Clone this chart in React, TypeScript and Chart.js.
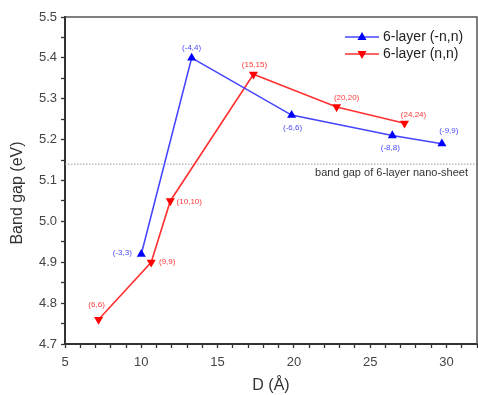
import React, { useEffect, useRef } from "react";
import { Chart, registerables } from "chart.js";

Chart.register(...registerables);

// ---- Data ----
const blueD = [10.0, 13.3, 19.85, 26.45, 29.7];
const blueGap = [4.92, 5.4, 5.26, 5.21, 5.19];
const blueLabels = ["(-3,3)", "(-4,4)", "(-6,6)", "(-8,8)", "(-9,9)"];

const redD = [7.2, 10.65, 11.9, 17.35, 22.8, 27.25];
const redGap = [4.76, 4.9, 5.05, 5.36, 5.28, 5.24];
const redLabels = ["(6,6)", "(9,9)", "(10,10)", "(15,15)", "(20,20)", "(24,24)"];

const seriesNames = ["6-layer (-n,n)", "6-layer (n,n)"];
const sheetGap = 5.14;
const sheetLabel = "band gap of 6-layer nano-sheet";

const xTicks = [5, 10, 15, 20, 25, 30];
const yTicks = [4.7, 4.8, 4.9, 5.0, 5.1, 5.2, 5.3, 5.4, 5.5];
const xTitle = "D (Å)";
const yTitle = "Band gap (eV)";

// ---- Styles (label offsets in px relative to the point) ----
const blueOffsets = [[-19, -1], [0, -10], [1, 13], [-2, 12], [7, -13]];
const redOffsets = [[-2, -15], [16, 0], [19, 1], [1, -9], [10, -9], [9, -8]];

const BLUE_LINE = "#4545ff";
const RED_LINE = "#ff3030";
const BLUE_MARK = "#0000ff";
const RED_MARK = "#ff0000";
const FONT = "'Liberation Sans', Arial, sans-serif";

const decor = {
  id: "decor",
  beforeDatasetsDraw(chart: any) {
    const { ctx, chartArea } = chart;
    const { left, right, top, bottom } = chartArea;
    const ys = chart.scales.y;
    ctx.save();
    const yy = ys.getPixelForValue(sheetGap);
    ctx.strokeStyle = "#999";
    ctx.lineWidth = 1;
    ctx.setLineDash([1.5, 1.5]);
    ctx.beginPath();
    ctx.moveTo(left, yy);
    ctx.lineTo(right, yy);
    ctx.stroke();
    ctx.setLineDash([]);
    ctx.fillStyle = "#333";
    ctx.font = `11px ${FONT}`;
    ctx.textAlign = "right";
    ctx.textBaseline = "middle";
    ctx.fillText(sheetLabel, right - 9, yy + 9);
    ctx.strokeStyle = "#555";
    ctx.lineWidth = 1.5;
    ctx.beginPath();
    ctx.moveTo(left, top);
    ctx.lineTo(right, top);
    ctx.lineTo(right, bottom);
    ctx.stroke();
    ctx.restore();
  },
  afterDraw(chart: any) {
    const { ctx, chartArea } = chart;
    const xs = chart.scales.x;
    const ys = chart.scales.y;
    ctx.save();

    // x tick labels
    ctx.fillStyle = "#444";
    ctx.font = `13px ${FONT}`;
    ctx.textAlign = "center";
    ctx.textBaseline = "middle";
    xTicks.forEach((v) => {
      ctx.fillText(String(v), xs.getPixelForValue(v), chartArea.bottom + 18);
    });

    // data labels
    ctx.font = `8px ${FONT}`;
    const drawLabels = (xsArr: number[], ysArr: number[], labels: string[], offs: number[][], color: string) => {
      ctx.fillStyle = color;
      for (let i = 0; i < labels.length; i++) {
        const px = xs.getPixelForValue(xsArr[i]);
        const py = ys.getPixelForValue(ysArr[i]);
        ctx.fillText(labels[i], px + offs[i][0], py + offs[i][1]);
      }
    };
    drawLabels(blueD, blueGap, blueLabels, blueOffsets, "#4a4aff");
    drawLabels(redD, redGap, redLabels, redOffsets, "#ff3a3a");

    // legend
    const legendItems = [
      { name: seriesNames[0], line: BLUE_LINE, mark: BLUE_MARK, rot: 0 },
      { name: seriesNames[1], line: RED_LINE, mark: RED_MARK, rot: 180 },
    ];
    legendItems.forEach((it, i) => {
      const ly = 37 + i * 17;
      ctx.strokeStyle = it.line;
      ctx.lineWidth = 1.5;
      ctx.beginPath();
      ctx.moveTo(345, ly);
      ctx.lineTo(379, ly);
      ctx.stroke();
      ctx.fillStyle = it.mark;
      ctx.beginPath();
      if (it.rot === 0) {
        ctx.moveTo(362, ly - 5);
        ctx.lineTo(366.5, ly + 3);
        ctx.lineTo(357.5, ly + 3);
      } else {
        ctx.moveTo(362, ly + 5);
        ctx.lineTo(366.5, ly - 3);
        ctx.lineTo(357.5, ly - 3);
      }
      ctx.closePath();
      ctx.fill();
      ctx.fillStyle = "#222";
      ctx.font = `14px ${FONT}`;
      ctx.textAlign = "left";
      ctx.textBaseline = "middle";
      ctx.fillText(it.name, 383, ly + 0.5);
    });

    // axis titles
    ctx.fillStyle = "#333";
    ctx.font = `16px ${FONT}`;
    ctx.textAlign = "center";
    ctx.textBaseline = "middle";
    ctx.fillText(xTitle, (chartArea.left + chartArea.right) / 2, 386);
    ctx.save();
    ctx.translate(18, 193);
    ctx.rotate(-Math.PI / 2);
    ctx.fillText(yTitle, 0, 0);
    ctx.restore();
    ctx.restore();
  },
};

export default function App() {
  const ref = useRef<HTMLCanvasElement | null>(null);
  useEffect(() => {
    if (!ref.current) return;
    const chart = new Chart(ref.current, {
      type: "line",
      data: {
        datasets: [
          {
            label: seriesNames[0],
            data: blueD.map((d, i) => ({ x: d, y: blueGap[i] })),
            borderColor: BLUE_LINE,
            backgroundColor: BLUE_MARK,
            borderWidth: 1.6,
            pointStyle: "triangle",
            pointRadius: 5.2,
            pointBorderWidth: 0,
            pointBackgroundColor: BLUE_MARK,
            tension: 0,
          },
          {
            label: seriesNames[1],
            data: redD.map((d, i) => ({ x: d, y: redGap[i] })),
            borderColor: RED_LINE,
            backgroundColor: RED_MARK,
            borderWidth: 1.6,
            pointStyle: "triangle",
            pointRotation: 180,
            pointRadius: 5.2,
            pointBorderWidth: 0,
            pointBackgroundColor: RED_MARK,
            tension: 0,
          },
        ],
      },
      options: {
        animation: false,
        responsive: false,
        maintainAspectRatio: false,
        layout: { autoPadding: false, padding: { top: 17, right: 1, left: 0, bottom: 0 } },
        plugins: {
          legend: { display: false },
          tooltip: { enabled: false },
        },
        scales: {
          x: {
            type: "linear",
            min: 5,
            max: 32,
            afterBuildTicks: (s: any) => {
              const t: any[] = [];
              for (let v = 5; v <= 32; v++) t.push({ value: v });
              s.ticks = t;
            },
            afterFit: (s: any) => {
              s.height = 51;
              s.paddingLeft = 0;
              s.paddingRight = 0;
            },
            ticks: { display: false },
            grid: {
              display: true,
              drawOnChartArea: false,
              tickLength: 4,
              tickColor: "#333",
              tickWidth: 1.3,
            },
            border: { display: true, color: "#333", width: 2 },
          },
          y: {
            type: "linear",
            min: 4.7,
            max: 5.5,
            afterBuildTicks: (s: any) => {
              const t: any[] = [];
              for (let k = 0; k <= 16; k++) t.push({ value: Math.round((4.7 + k * 0.05) * 100) / 100 });
              s.ticks = t;
            },
            afterFit: (s: any) => {
              s.width = 65;
              s.paddingTop = 0;
              s.paddingBottom = 0;
            },
            ticks: {
              autoSkip: false,
              padding: 4,
              color: "#444",
              font: { family: FONT, size: 13 },
              callback: (v: any) => {
                const n = Number(v);
                const hit = yTicks.find((t) => Math.abs(t - n) < 1e-6);
                return hit !== undefined ? hit.toFixed(1) : "";
              },
            },
            grid: {
              display: true,
              drawOnChartArea: false,
              tickLength: 4,
              tickColor: "#333",
              tickWidth: 1.3,
            },
            border: { display: true, color: "#333", width: 2 },
          },
        },
      },
      plugins: [decor],
    } as any);
    return () => chart.destroy();
  }, []);
  return (
    <div style={{ position: "fixed", left: 0, top: 0, width: 478, height: 395, background: "#fff" }}>
      <canvas ref={ref} width={478} height={395} style={{ display: "block", width: 478, height: 395 }} />
    </div>
  );
}
